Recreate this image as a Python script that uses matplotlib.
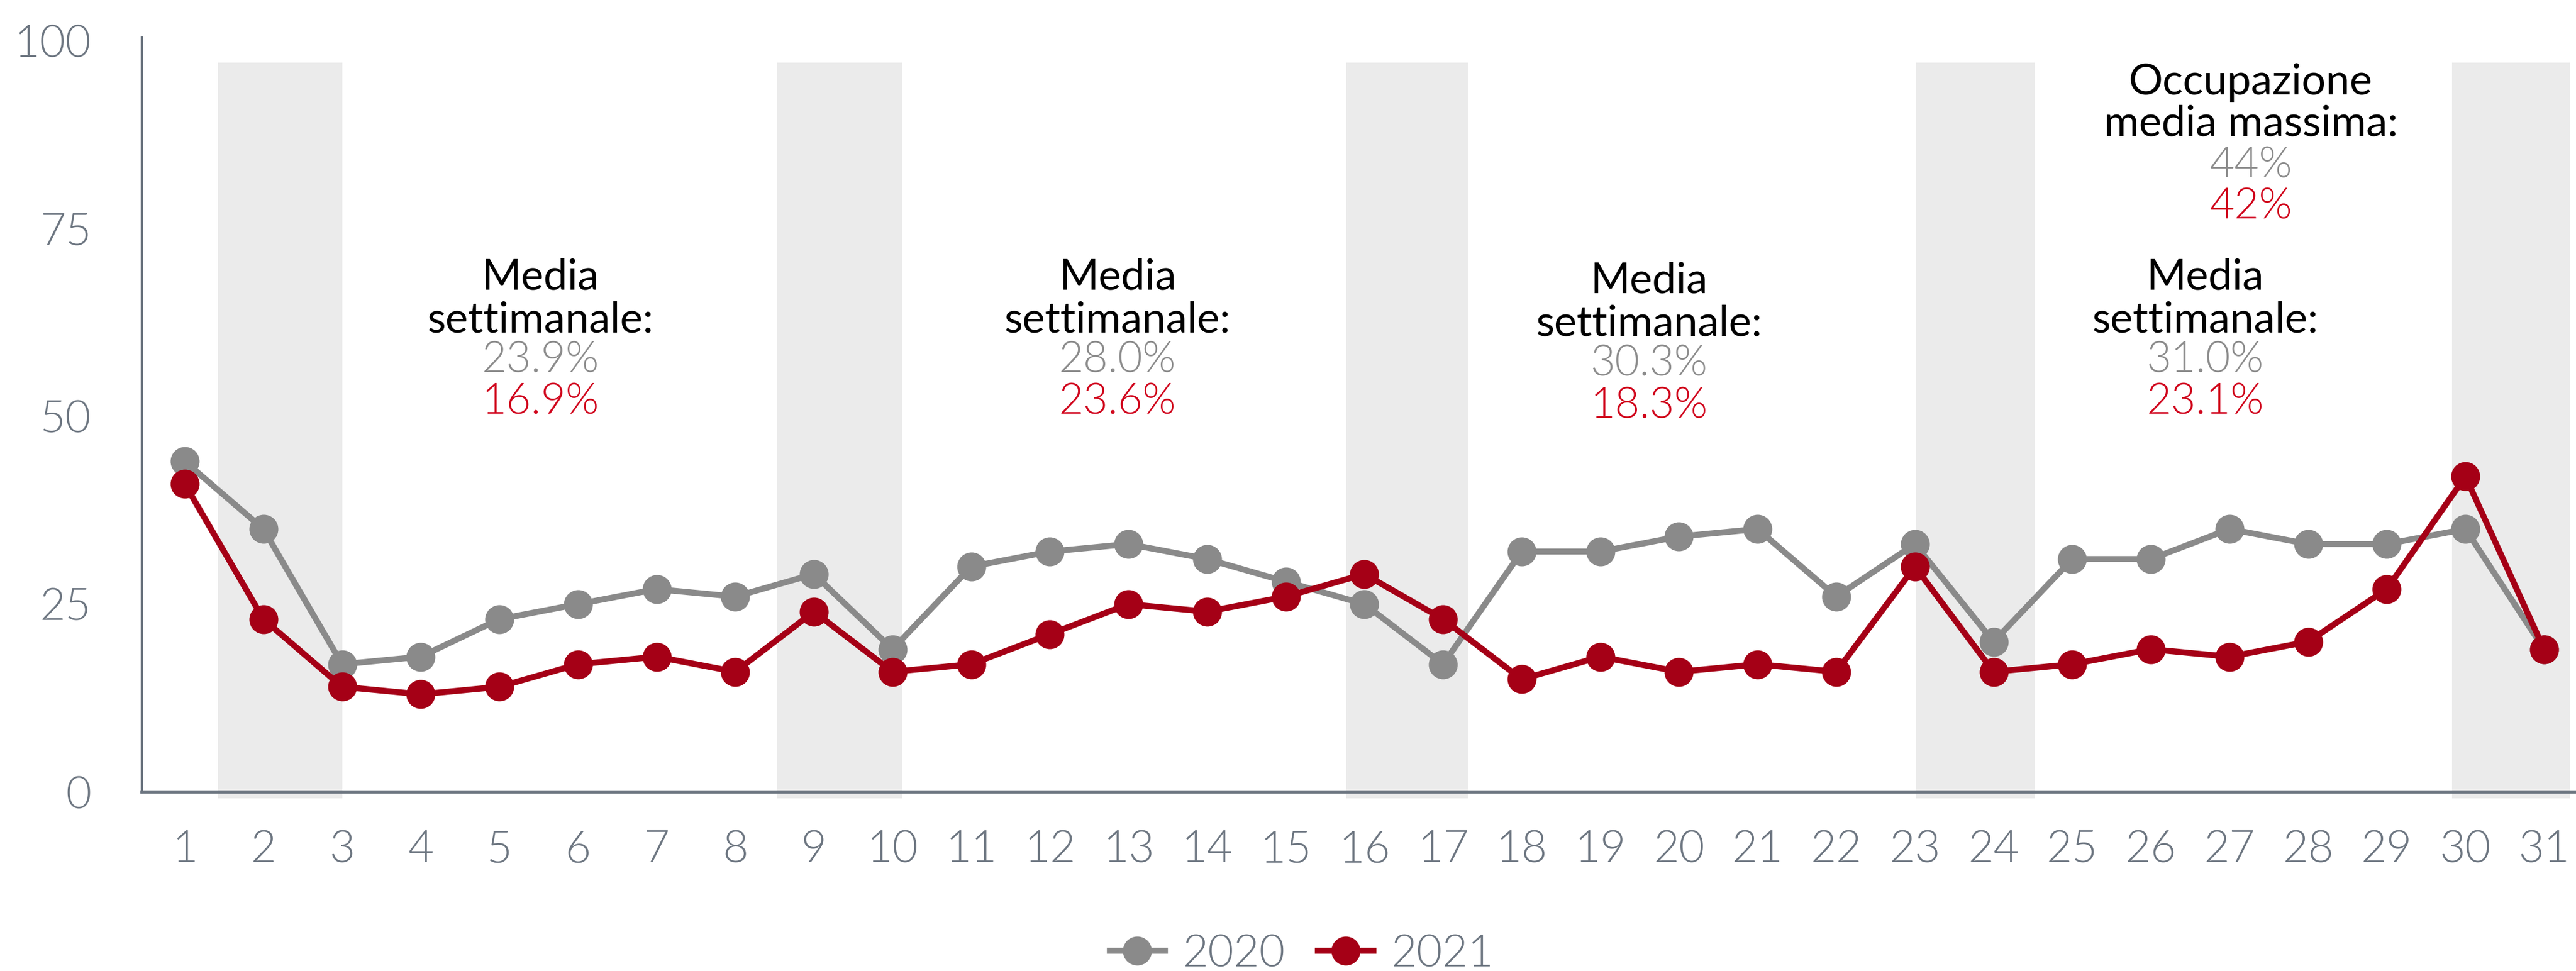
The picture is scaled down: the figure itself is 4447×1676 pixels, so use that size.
import matplotlib
matplotlib.use("Agg")
import matplotlib.pyplot as plt

# daily occupancy (%)
days = list(range(1, 32))
occ_2020 = [44, 35, 17, 18, 23, 25, 27, 26, 29, 19, 30, 32, 33, 31, 28, 25,
            17, 32, 32, 34, 35, 26, 33, 20, 31, 31, 35, 33, 33, 35, 19]
occ_2021 = [41, 23, 14, 13, 14, 17, 18, 16, 24, 16, 17, 21, 25, 24, 26, 29,
            23, 15, 18, 16, 17, 16, 30, 16, 17, 19, 18, 20, 27, 42, 19]

# shaded weekend bands (x ranges on the day axis)
weekend_spans = [(1.42, 3.0), (8.53, 10.12), (15.77, 17.32), (23.02, 24.53), (29.83, 31.33)]

week_avg_2020 = ["23.9%", "28.0%", "30.3%", "31.0%"]
week_avg_2021 = ["16.9%", "23.6%", "18.3%", "23.1%"]
week_label_x = [5.52, 12.86, 19.62, 26.69]
week_label_y = [68.5, 68.5, 68.0, 68.5]
max_2020, max_2021 = "44%", "42%"

GRAY = "#8a8a8a"
RED = "#a50016"
GRAY_TXT = "#8c8c8c"
RED_TXT = "#d0021b"
SLATE = "#6d7681"
BAND = "#ebebeb"
LIGHT = 300  # Lato Light

plt.rcParams["font.family"] = ["Lato", "DejaVu Sans"]

W, H = 4447, 1676
fig = plt.figure(figsize=(W / 100, H / 100), dpi=100)
ax = fig.add_axes([245 / W, 309 / H, 1 - 245 / W, 1302 / H])

for x0, x1 in weekend_spans:
    ax.axvspan(x0, x1, ymin=-0.0085, ymax=0.967, color=BAND, lw=0, zorder=0, clip_on=False)

ax.plot(days, occ_2020, color=GRAY, lw=7.5, marker="o", ms=35, label="2020", zorder=3, clip_on=False)
ax.plot(days, occ_2021, color=RED, lw=7.5, marker="o", ms=35, label="2021", zorder=4, clip_on=False)

ax.set_xlim(0.455, 31.406)
ax.set_ylim(0, 100.4)
ax.set_xticks(days)
ax.set_yticks([0, 25, 50, 75, 100])
ax.tick_params(axis="x", length=0, pad=47, labelsize=55, labelcolor=SLATE)
ax.tick_params(axis="y", length=0, pad=63, labelsize=55, labelcolor=SLATE)
for lbl in ax.get_xticklabels() + ax.get_yticklabels():
    lbl.set_fontweight(LIGHT)
for side in ("top", "right"):
    ax.spines[side].set_visible(False)
ax.spines["left"].set_color(SLATE)
ax.spines["left"].set_linewidth(3)
ax.spines["bottom"].set_color(SLATE)
ax.spines["bottom"].set_linewidth(4)

# weekly averages
offsets = [0, -5.7, -11.0, -16.6]
for x, y, a20, a21 in zip(week_label_x, week_label_y, week_avg_2020, week_avg_2021):
    lines = [("Media", "black", "normal"), ("settimanale:", "black", "normal"),
             (a20, GRAY_TXT, LIGHT), (a21, RED_TXT, LIGHT)]
    for (txt, col, wt), dy in zip(lines, offsets):
        ax.text(x, y + dy, txt, color=col, fontsize=53, fontweight=wt,
                ha="center", va="center", zorder=5)

# monthly peak
peak = [("Occupazione", "black", "normal"), ("media massima:", "black", "normal"),
        (max_2020, GRAY_TXT, LIGHT), (max_2021, RED_TXT, LIGHT)]
for (txt, col, wt), dy in zip(peak, [0, -5.5, -11.0, -16.5]):
    ax.text(27.27, 94.4 + dy, txt, color=col, fontsize=53, fontweight=wt,
            ha="center", va="center", zorder=5)

leg = fig.legend(loc="center", bbox_to_anchor=(0.5053, 0.0173), ncol=2, frameon=False,
                 fontsize=55, labelcolor=SLATE, handlelength=1.25, handletextpad=0.4,
                 columnspacing=0.74)
for t in leg.get_texts():
    t.set_fontweight(LIGHT)

fig.savefig("out.png", dpi=100)
